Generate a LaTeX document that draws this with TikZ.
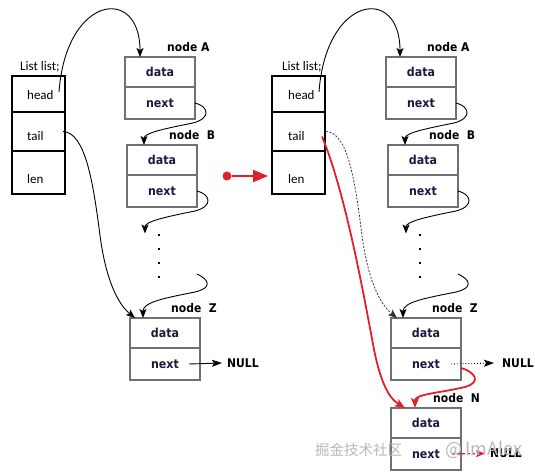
\documentclass[tikz,border=0pt]{standalone}
\usepackage{fontspec}
\setmainfont{Carlito}
\newfontfamily\lblfont{DejaVu Sans Condensed}
\newfontfamily\cjkfont{Noto Sans CJK SC}
\usetikzlibrary{arrows.meta,calc}
\definecolor{boxgray}{HTML}{707070}
\definecolor{txtnavy}{HTML}{1A1A40}
\definecolor{myred}{HTML}{E2202C}
\newcommand\llbox[3]{%
  \node[nrow, minimum height=30pt] (#1d) at (#2,#3) {data};
  \node[nrow, minimum height=32pt] (#1n) at (#1d.south west) {next};}
\newcommand\listbox[3]{%
  \node[listrow, minimum height=36pt] (#1h) at (#2,#3) {};
  \node[listrow, minimum height=39pt] (#1t) at (#1h.south west) {};
  \node[listrow, minimum height=43pt] (#1l) at (#1t.south west) {};}
\begin{document}
\begin{tikzpicture}[x=1pt,y=-1pt,
  listrow/.style={draw=black, line width=2pt, minimum width=53pt, inner sep=0pt, outer sep=0pt, anchor=north west},
  listtxt/.style={anchor=base west, inner sep=0pt, font=\fontsize{13}{15}\selectfont},
  nrow/.style={draw=boxgray, line width=1.3pt, minimum width=70pt, inner sep=0pt, outer sep=0pt, anchor=north west,
    text=txtnavy, font=\lblfont\bfseries\fontsize{12.3}{14}\selectfont},
  nlbl/.style={anchor=west, inner sep=0pt, font=\lblfont\bfseries\fontsize{12}{14}\selectfont},
  dotn/.style={rectangle, fill=black, minimum size=2.6pt, inner sep=0pt},
  carrow/.style={draw=black, line width=0.9pt, -{Stealth[length=9pt,width=7pt,inset=2pt]}},
  rarrow/.style={draw=myred, line width=1.8pt, -{Stealth[length=10pt,width=8pt,inset=2pt]}},
]
\useasboundingbox (0,0) rectangle (535,473);

% ---------------- left half ----------------
\node[listtxt] (LLname) at (20,71) {List list;};
\listbox{L}{12}{76}
\node[listtxt] (LhT) at (27,100) {head};
\node[listtxt] (LtT) at (27,141) {tail};
\node[listtxt] (LlT) at (27,183) {len};

\llbox{A}{125}{57}
\llbox{B}{127}{145}
\llbox{Z}{130}{318}
\node[nlbl] (labA) at (167,47.5) {node A};
\node[nlbl] (labB) at (169,135) {node\ \ B};
\node[nlbl] (labZ) at (171,308) {node\ \ Z};

\foreach \i/\yy in {1/235,2/249,3/263,4/277} {\node[dotn] (dL\i) at (159,\yy) {};}
\coordinate (zsL) at ($(dL4)+(38,-3)$);

\node[nlbl] (nullL) at (227,363) {NULL};
\draw[draw=black, line width=0.9pt, -{Stealth[length=10pt,width=7pt,inset=2pt]}]
  ([xshift=-11pt]Zn.east) -- ([xshift=-5pt]nullL.west);

\draw[carrow] ([xshift=-6pt,yshift=2pt]Lh.east) .. controls +(7,-97) and +(0,-72) .. ([xshift=15pt]Ad.north west);
\draw[carrow] (An.east) .. controls +(13,3) and +(19,-5) .. ($(An.east)+(-2,20)$)
  .. controls +(-30,6) and +(0,-12) .. ([xshift=17pt]Bd.north west);
\draw[carrow] (Bn.east) .. controls +(13,3) and +(19,-5) .. ($(Bn.east)+(-2,20)$)
  .. controls +(-30,6) and +(0,-12) .. ([xshift=-14pt]dL1.north);
\draw[carrow] (zsL) .. controls +(13,6) and +(17,-4) .. ($(zsL)+(-2,18)$)
  .. controls +(-30,6) and +(0,-16) .. ([xshift=13pt]Zd.north west);
\draw[carrow] ([xshift=-2pt]Lt.east) .. controls +(22,1) and +(-7,-55) .. ($(Lt.east)+(35,104)$)
  .. controls +(6,45) and +(-17,-14) .. ([xshift=5pt]Zd.north west);

% ---------------- middle arrow ----------------
\node[circle, fill=myred, minimum size=9pt, inner sep=0pt] (midDot) at (227,176) {};
\coordinate (midTip) at (268,176);
\draw[myred, line width=2pt, -{Triangle[length=15pt,width=12pt]}] (midDot) -- (midTip);

% ---------------- right half ----------------
\node[listtxt] (RLname) at (282,71) {List list;};
\listbox{RL}{272}{76}
\node[listtxt] (RhT) at (288,100) {head};
\node[listtxt] (RtT) at (288,141) {tail};
\node[listtxt] (RlT) at (288,183) {len};

\llbox{RA}{386}{57}
\llbox{RB}{388}{145}
\llbox{RZ}{391}{318}
\llbox{RN}{391}{408}
\node[nlbl] (rlabA) at (427,47.5) {node A};
\node[nlbl] (rlabB) at (429,135) {node\ \ B};
\node[nlbl] (rlabZ) at (432,308) {node\ \ Z};
\node[nlbl] (rlabN) at (433,398) {node\ \ N};

\foreach \i/\yy in {1/235,2/249,3/263,4/277} {\node[dotn] (dR\i) at (420,\yy) {};}
\coordinate (zsR) at ($(dR4)+(38,-3)$);

\node[nlbl] (nullR) at (502,363) {NULL};
\draw[draw=black, line width=0.9pt, dotted, -{Stealth[length=10pt,width=7pt,inset=2pt]}]
  ([xshift=-10pt]RZn.east) -- ([xshift=-8pt]nullR.west);
\node[nlbl] (nullN) at (490,453.5) {NULL};
\draw[draw=myred, line width=1.3pt, dash pattern=on 3pt off 2pt, -{Stealth[length=9pt,width=7pt,inset=2pt]}]
  ([xshift=-9pt]RNn.east) -- ([xshift=-5pt]nullN.west);

\draw[carrow] ([xshift=-6pt,yshift=2pt]RLh.east) .. controls +(7,-97) and +(0,-72) .. ([xshift=14pt]RAd.north west);
\draw[carrow] (RAn.east) .. controls +(13,3) and +(19,-5) .. ($(RAn.east)+(-2,20)$)
  .. controls +(-30,6) and +(0,-12) .. ([xshift=17pt]RBd.north west);
\draw[carrow] (RBn.east) .. controls +(13,3) and +(19,-5) .. ($(RBn.east)+(-2,20)$)
  .. controls +(-30,6) and +(0,-12) .. ([xshift=-14pt]dR1.north);
\draw[carrow] (zsR) .. controls +(13,6) and +(17,-4) .. ($(zsR)+(-2,18)$)
  .. controls +(-30,6) and +(0,-16) .. ([xshift=12pt]RZd.north west);
\draw[draw=black!80, line width=0.8pt, dash pattern=on 2pt off 1.5pt, -{Stealth[length=9pt,width=7pt,inset=2pt]}]
  ([xshift=1pt]RLt.east) .. controls +(22,1) and +(-7,-55) .. ($(RLt.east)+(37,104)$)
  .. controls +(6,45) and +(-17,-14) .. ([xshift=6pt]RZd.north west);
\draw[rarrow] ([xshift=-3pt,yshift=-5pt]RLt.east) .. controls +(22,53) and +(-13,-70) .. ($(RLt.east)+(49,218)$)
  .. controls +(8,40) and +(-13,-8) .. ([xshift=14pt]RNd.north west);
\draw[rarrow] ([yshift=-4pt]RZn.east) .. controls +(14,4) and +(17,-5) .. ($(RZn.east)+(4,23)$)
  .. controls +(-25,6) and +(0,-14) .. ([xshift=24pt]RNd.north west);

% watermark
\node[anchor=west, inner sep=0pt, text=gray!55, text width=207pt, font=\cjkfont] (wm) at (315,450)
  {{\fontsize{14.5}{16}\selectfont 掘金技术社区}\hfill{\fontsize{18}{20}\selectfont @ ImAlex}};
\end{tikzpicture}
\end{document}
